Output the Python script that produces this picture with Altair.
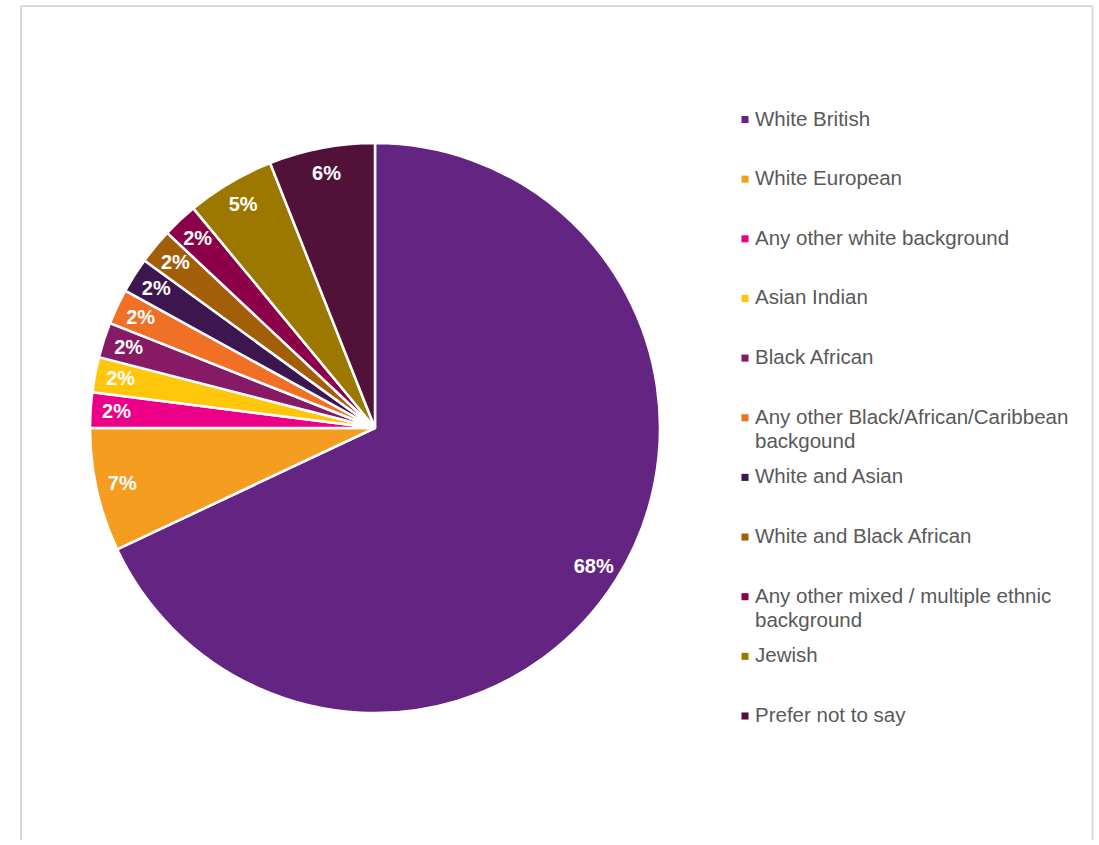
import altair as alt
import pandas as pd

categories = [
    "White British",
    "White European",
    "Any other white background",
    "Asian Indian",
    "Black African",
    "Any other Black/African/Caribbean backgound",
    "White and Asian",
    "White and Black African",
    "Any other mixed / multiple ethnic background",
    "Jewish",
    "Prefer not to say",
]
values = [68, 7, 2, 2, 2, 2, 2, 2, 2, 5, 6]
labels = ["68%", "7%", "2%", "2%", "2%", "2%", "2%", "2%", "2%", "5%", "6%"]
colors = [
    "#632581", "#F59D20", "#EC0088", "#FFC60B", "#861A64", "#F07125",
    "#3D1650", "#A35E0A", "#8C0049", "#9C7800", "#521139",
]
legend_line1 = [
    "White British", "White European", "Any other white background", "Asian Indian",
    "Black African", "Any other Black/African/Caribbean", "White and Asian",
    "White and Black African", "Any other mixed / multiple ethnic", "Jewish",
    "Prefer not to say",
]
legend_line2 = ["", "", "", "", "", "backgound", "", "", "background", "", ""]

df = pd.DataFrame({
    "category": categories,
    "value": values,
    "label": labels,
    "order": list(range(len(categories))),
    "line1": legend_line1,
    "line2": legend_line2,
})

FONT = "Liberation Sans"
color_scale = alt.Scale(domain=categories, range=colors)
CX, CY = 355, 423

base = alt.Chart(df)

arcs = base.mark_arc(outerRadius=285, stroke="white", strokeWidth=2.5).encode(
    theta=alt.Theta("value:Q", stack=True),
    color=alt.Color("category:N", scale=color_scale, legend=None),
    order=alt.Order("order:Q"),
    x=alt.value(CX),
    y=alt.value(CY),
)

pie_text = base.mark_text(
    radius=259, fontSize=20, fontWeight="bold", color="white", font=FONT
).encode(
    theta=alt.Theta("value:Q", stack=True),
    text="label:N",
    order=alt.Order("order:Q"),
    x=alt.value(CX),
    y=alt.value(CY),
)

yscale = alt.Scale(domain=[0, 10], range=[114.5, 711], nice=False, zero=False)

leg_sq = base.mark_square(size=50, opacity=1).encode(
    x=alt.value(725),
    y=alt.Y("order:Q", scale=yscale, axis=None),
    color=alt.Color("category:N", scale=color_scale, legend=None),
)

leg_t1 = base.mark_text(
    align="left", baseline="middle", fontSize=20.5, color="#595959", font=FONT
).encode(
    x=alt.value(735),
    y=alt.Y("order:Q", scale=yscale, axis=None),
    text="line1:N",
)

leg_t2 = base.transform_filter("datum.line2 != ''").mark_text(
    align="left", baseline="middle", fontSize=20.5, color="#595959", font=FONT, dy=24
).encode(
    x=alt.value(735),
    y=alt.Y("order:Q", scale=yscale, axis=None),
    text="line2:N",
)

one = alt.Chart(pd.DataFrame({"a": [0]}))
border_color = "#D9D9D9"
top_rule = one.mark_rule(color=border_color, strokeWidth=2).encode(
    x=alt.value(1), x2=alt.value(1072.5), y=alt.value(1)
)
left_rule = one.mark_rule(color=border_color, strokeWidth=2).encode(
    x=alt.value(1), y=alt.value(1), y2=alt.value(900)
)
right_rule = one.mark_rule(color=border_color, strokeWidth=2).encode(
    x=alt.value(1072.5), y=alt.value(1), y2=alt.value(900)
)

chart = alt.layer(
    top_rule, left_rule, right_rule, arcs, pie_text, leg_sq, leg_t1, leg_t2
).properties(
    width=1075,
    height=835,
    padding={"left": 20, "top": 5, "right": 4, "bottom": 0},
    autosize="none",
).configure_view(stroke=None)

chart.save("out.html", embed_options={"renderer": "svg", "actions": False})
